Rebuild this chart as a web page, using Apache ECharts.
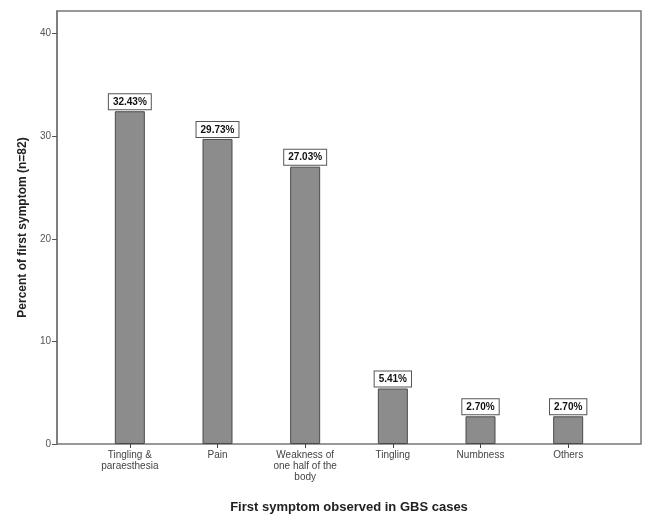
<!DOCTYPE html>
<html>
<head>
<meta charset="utf-8">
<script src="https://cdn.jsdelivr.net/npm/echarts@6/dist/echarts.min.js"></script>
<style>html,body{margin:0;padding:0;background:#fff}#c{width:645px;height:516px}</style>
</head>
<body>
<div id="c"></div>
<script>
const categories = ["Tingling &\nparaesthesia", "Pain", "Weakness of\none half of the\nbody", "Tingling", "Numbness", "Others"];
const percents = [32.43, 29.73, 27.03, 5.41, 2.70, 2.70];
const yTicks = [0, 10, 20, 30, 40];

const chart = echarts.init(document.getElementById('c'), null, {renderer: 'canvas'});
const gridTop = 11, gridBottom = 72;
chart.setOption({
  animation: false,
  backgroundColor: '#ffffff',
  grid: [
    {left: 57, right: 4, top: gridTop, bottom: gridBottom, outerBoundsMode: 'none', containLabel: false, show: true, borderColor: '#777', borderWidth: 1.5, backgroundColor: 'transparent'},
    {left: 86, right: 33, top: gridTop, bottom: gridBottom, outerBoundsMode: 'none', containLabel: false}
  ],
  xAxis: [
    {gridIndex: 0, type: 'value', show: false, min: 0, max: 1},
    {gridIndex: 1, type: 'category', data: categories,
     axisLine: {show: false},
     axisTick: {show: true, alignWithLabel: true, length: 4, lineStyle: {color: '#444'}},
     axisLabel: {interval: 0, color: '#444', fontSize: 10, fontFamily: 'Liberation Sans, Arial, sans-serif', lineHeight: 11, margin: 6},
     name: 'First symptom observed in GBS cases', nameLocation: 'middle', nameGap: 57,
     nameTextStyle: {fontSize: 13, fontWeight: 'bold', color: '#222', fontFamily: 'Liberation Sans, Arial, sans-serif'}}
  ],
  yAxis: [
    {gridIndex: 0, type: 'value', min: 0, max: 42.2,
     splitLine: {show: false},
     axisLine: {show: true, lineStyle: {color: '#777', width: 1.5}},
     axisTick: {show: true, length: 5, customValues: yTicks, lineStyle: {color: '#555'}},
     axisLabel: {customValues: yTicks, color: '#555', fontSize: 10, fontFamily: 'Liberation Sans, Arial, sans-serif', margin: 6},
     name: 'Percent of first symptom (n=82)', nameLocation: 'middle', nameGap: 28,
     nameTextStyle: {fontSize: 12, fontWeight: 'bold', color: '#222', fontFamily: 'Liberation Sans, Arial, sans-serif'}},
    {gridIndex: 1, type: 'value', min: 0, max: 42.2, show: false}
  ],
  series: [{
    type: 'bar', xAxisIndex: 1, yAxisIndex: 1,
    data: percents, barWidth: 30,
    itemStyle: {color: '#8c8c8c', borderColor: '#4a4a4a', borderWidth: 1},
    label: {show: true, position: 'top', distance: 2,
      formatter: p => p.value.toFixed(2) + '%',
      color: '#111', fontSize: 10, fontWeight: 'bold', fontFamily: 'Liberation Sans, Arial, sans-serif',
      backgroundColor: '#fff', borderColor: '#555', borderWidth: 1, padding: [3, 4, 2, 4]}
  }]
});
</script>
</body>
</html>
